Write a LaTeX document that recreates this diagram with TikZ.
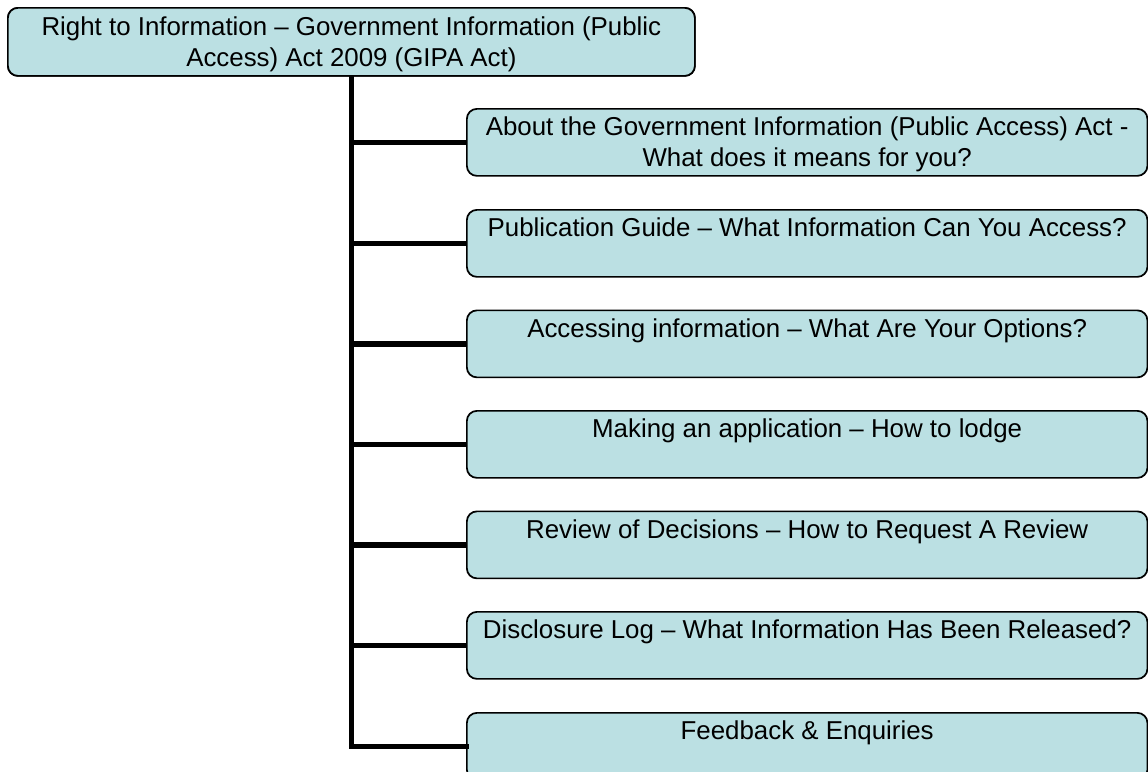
\documentclass[tikz,border=0pt]{standalone}
\usepackage{fontspec}
\setmainfont{Liberation Sans}
\definecolor{boxfill}{HTML}{BBE0E3}
\newcommand{\firstln}{\rule{0pt}{15pt}}
\tikzset{
  topbox/.style={draw=black, fill=boxfill, line width=1.3pt, rounded corners=7.5pt,
    rectangle, inner sep=0pt, anchor=north west, minimum width=515.25pt, minimum height=51pt},
  childbox/.style={draw=black, fill=boxfill, line width=1.3pt, rounded corners=7.5pt,
    rectangle, inner sep=0pt, anchor=north west, minimum width=510.4pt, minimum height=50.25pt},
  boxtext/.style={inner sep=0pt, anchor=north, align=center, text=black,
    font=\fontsize{19.4}{23.2}\selectfont},
  conn/.style={line width=4.2pt, draw=black, line join=miter, line cap=rect}
}
\begin{document}
\begin{tikzpicture}[x=0.75pt, y=-0.75pt]
\useasboundingbox (0,0) rectangle (1148,771);
\clip (0,0) rectangle (1148,771);
% boxes
\node[topbox] (top) at (7,7) {};
\node[childbox] (b1) at (466,108) {};
\node[childbox] (b2) at (466,209) {};
\node[childbox] (b3) at (466,309.5) {};
\node[childbox] (b4) at (466,410) {};
\node[childbox] (b5) at (466,510.5) {};
\node[childbox] (b6) at (466,611) {};
\node[childbox] (b7) at (466,712) {};
% connectors
\draw[conn] (top.south) -- (top.south |- b7.west) -- (b7.west);
\foreach \b in {b1,b2,b3,b4,b5,b6}{
  \draw[conn, line cap=butt] (top.south |- \b.west) -- (\b.west);
}
% redraw top box over connector start
\node[topbox] at (7,7) {};
% texts
\node[boxtext] (t0) at ([yshift=-6.5pt]top.north) {\firstln Right to Information – Government Information (Public\\Access) Act 2009 (GIPA Act)};
\node[boxtext] (t1) at ([yshift=-5.5pt]b1.north) {\firstln About the Government Information (Public Access) Act -\\What does it means for you?};
\node[boxtext] (t2) at ([yshift=-5.5pt]b2.north) {\firstln Publication Guide – What Information Can You Access?};
\node[boxtext] (t3) at ([yshift=-5.5pt]b3.north) {\firstln Accessing information – What Are Your Options?};
\node[boxtext] (t4) at ([yshift=-5.5pt]b4.north) {\firstln Making an application – How to lodge};
\node[boxtext] (t5) at ([yshift=-5.5pt]b5.north) {\firstln Review of Decisions – How to Request A Review};
\node[boxtext] (t6) at ([yshift=-5.5pt]b6.north) {\firstln Disclosure Log – What Information Has Been Released?};
\node[boxtext] (t7) at ([yshift=-5.5pt]b7.north) {\firstln Feedback \& Enquiries};
\end{tikzpicture}
\end{document}
